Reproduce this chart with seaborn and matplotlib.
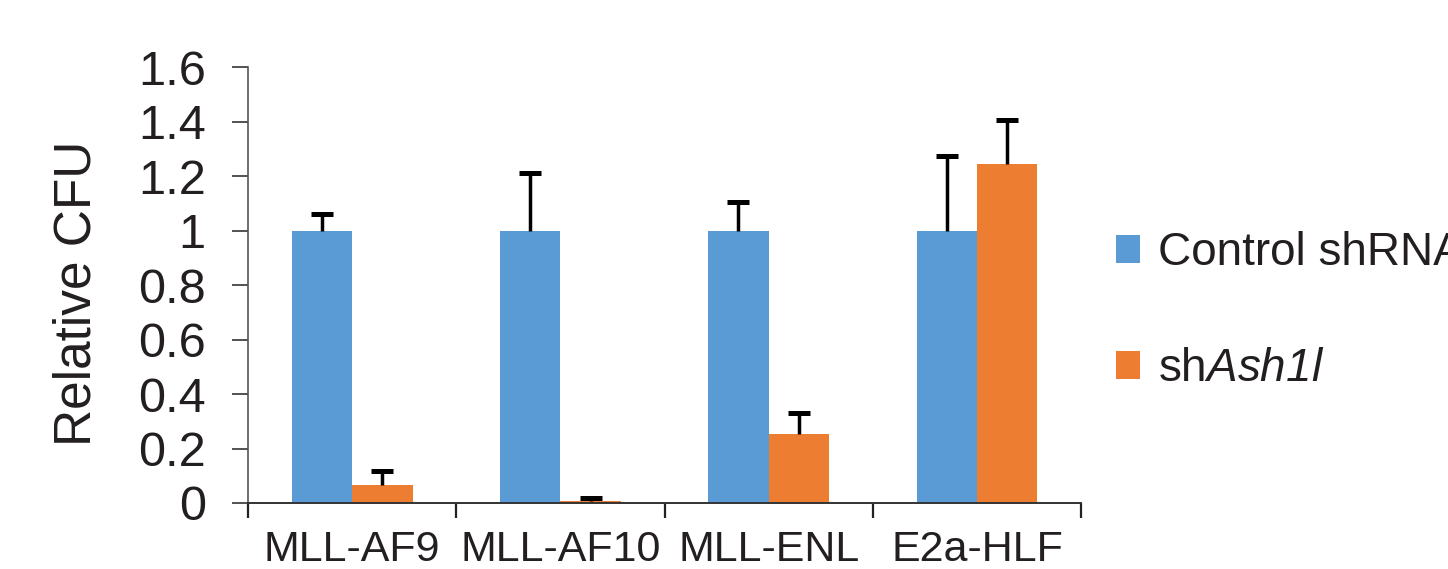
import pandas as pd
import matplotlib.pyplot as plt
import seaborn as sns

# Values
constructs = ["MLL-AF9", "MLL-AF10", "MLL-ENL", "E2a-HLF"]
conditions = ["Control shRNA", "sh$\\mathsf{Ash1l}$"]
control_cfu = [1.0, 1.0, 1.0, 1.0]
control_err = [0.06, 0.21, 0.105, 0.275]
sh_cfu = [0.065, 0.008, 0.253, 1.243]
sh_err = [0.054, 0.012, 0.076, 0.162]
y_ticks = [0, 0.2, 0.4, 0.6, 0.8, 1.0, 1.2, 1.4, 1.6]

df = pd.DataFrame({
    "construct": constructs * 2,
    "condition": [conditions[0]] * 4 + [conditions[1]] * 4,
    "cfu": control_cfu + sh_cfu,
})
errors = [control_err, sh_err]

sns.set_style("white")
plt.rcParams["font.family"] = ["Liberation Sans", "DejaVu Sans"]
plt.rcParams["mathtext.fontset"] = "custom"
plt.rcParams["mathtext.rm"] = "Liberation Sans"
# sf slot used for the italic gene name (keeps the digit italic too)
plt.rcParams["mathtext.sf"] = "Liberation Sans:italic"

text_col = "#231f20"
fig, ax = plt.subplots(figsize=(14.48, 5.69), dpi=100)
fig.subplots_adjust(left=0.1713, right=0.7466, bottom=0.116, top=0.8822)

sns.barplot(data=df, x="construct", y="cfu", hue="condition",
            palette=["#5b9bd5", "#ed7d31"], width=0.58, saturation=1,
            errorbar=None, linewidth=0, ax=ax)

# one-sided error bars on top of each bar
for cont, err in zip(ax.containers, errors):
    xs = [p.get_x() + p.get_width() / 2 for p in cont.patches]
    tops = [p.get_height() for p in cont.patches]
    ends = [t + e for t, e in zip(tops, err)]
    ax.vlines(xs, tops, ends, color="black", lw=2.5, zorder=3)
    ax.plot(xs, ends, ls="none", marker="_", ms=16, mew=3.6,
            color="black", zorder=3)

ax.set_xlim(-0.5, 3.5)
ax.set_ylim(0, 1.6)
ax.set_yticks(y_ticks)
ax.set_yticklabels([f"{v:g}" for v in y_ticks])
ax.set_xticks(range(len(constructs)))
ax.set_xticklabels(constructs)
ax.set_xticks([i - 0.5 for i in range(len(constructs) + 1)], minor=True)

ax.tick_params(axis="y", left=True, direction="out", length=11.5, width=1.3,
               pad=19, labelsize=35, colors="#444444", labelcolor=text_col)
ax.tick_params(axis="x", which="major", bottom=True, length=0, pad=19.5,
               labelsize=31, labelcolor=text_col)
ax.tick_params(axis="x", which="minor", bottom=True, direction="out",
               length=10.5, width=1.6, color="#222222")

for side in ["top", "right"]:
    ax.spines[side].set_visible(False)
ax.spines["left"].set_color("#555555")
ax.spines["left"].set_linewidth(1.2)
ax.spines["bottom"].set_color("#333333")
ax.spines["bottom"].set_linewidth(1.4)

ax.set_xlabel("")
ax.set_ylabel("Relative CFU", fontsize=37, color=text_col)
ax.yaxis.set_label_coords(-0.1765, 0.48)

handles, labels = ax.get_legend_handles_labels()
ax.get_legend().remove()
leg = fig.legend(handles, labels, loc="upper left",
                 bbox_to_anchor=(0.7707, 0.594), frameon=False, fontsize=33,
                 handlelength=0.52, handleheight=0.55, handletextpad=0.4,
                 labelspacing=1.57, borderpad=0, borderaxespad=0)
for t in leg.get_texts():
    t.set_color(text_col)

fig.savefig("out.png", dpi=100)
